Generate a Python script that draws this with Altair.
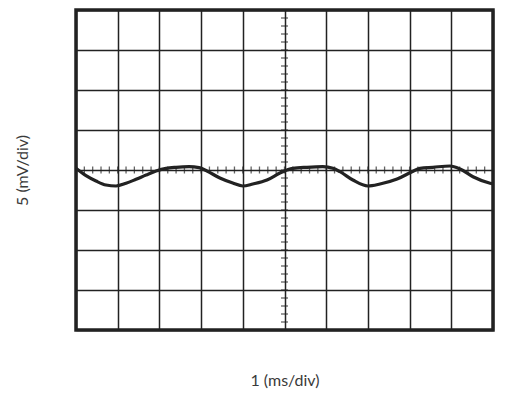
import altair as alt
import pandas as pd

# Waveform (time in ms, amplitude in mV)
t_ms = [0.0, 0.24, 0.48, 0.72, 0.96, 1.20, 1.44, 1.68, 1.92, 2.16, 2.40, 2.71, 2.95, 3.14,
        3.45, 3.76, 4.0, 4.24, 4.58, 4.89, 5.06, 5.20, 5.54, 5.92, 6.16, 6.33, 6.64, 7.0,
        7.29, 7.70, 8.06, 8.25, 8.56, 8.97, 9.21, 9.52, 9.93, 10.0]
v_mv = [0.21, -0.71, -1.38, -1.88, -2.0, -1.66, -1.16, -0.63, -0.13, 0.21, 0.34, 0.41,
        0.29, -0.13, -1.0, -1.63, -2.0, -1.75, -1.25, -0.38, 0.0, 0.21, 0.34, 0.41, 0.21,
        -0.21, -1.25, -2.0, -1.75, -1.13, -0.21, 0.21, 0.34, 0.5, 0.13, -0.84, -1.66, -1.75]

# Graticule: major divisions and minor ticks on the centre cross
x_major = [0, 1, 2, 3, 4, 5, 6, 7, 8, 9, 10]
y_major = [-20, -15, -10, -5, 0, 5, 10, 15, 20]
x_minor = [round(i * 0.2, 2) for i in range(0, 51)]
y_minor = [float(i) for i in range(-20, 21)]

wave = pd.DataFrame({"t": t_ms, "v": v_mv})
xt = pd.DataFrame({"t": x_minor, "v": [0.0] * len(x_minor)})
yt = pd.DataFrame({"t": [5.0] * len(y_minor), "v": y_minor})

xs = alt.Scale(domain=[0, 10], nice=False, zero=False)
ys = alt.Scale(domain=[-20, 20], nice=False, zero=False)

xaxis = alt.Axis(values=x_major, grid=True, labels=False, ticks=False, domain=False,
                 title="1 (ms/div)", titlePadding=42, titleFontSize=16,
                 titleFontWeight="normal", titleColor="#3a3a3a", titleFont="Lato",
                 gridColor="#222", gridWidth=1.5, gridOpacity=1)
yaxis = alt.Axis(values=y_major, grid=True, labels=False, ticks=False, domain=False,
                 title="5 (mV/div)", titlePadding=46, titleFontSize=16,
                 titleFontWeight="normal", titleColor="#3a3a3a", titleFont="Lato",
                 gridColor="#222", gridWidth=1.5, gridOpacity=1)

X = alt.X("t:Q", scale=xs, axis=xaxis)
Y = alt.Y("v:Q", scale=ys, axis=yaxis)

line = alt.Chart(wave).mark_line(color="#222", strokeWidth=3.2, interpolate="monotone").encode(x=X, y=Y)
xticks = alt.Chart(xt).mark_tick(orient="vertical", size=7, thickness=1.3, color="#222").encode(x=X, y=Y)
yticks = alt.Chart(yt).mark_tick(orient="horizontal", size=7, thickness=1.3, color="#222").encode(x=X, y=Y)

chart = alt.layer(xticks, yticks, line).properties(
    width=417, height=320,
    autosize=alt.AutoSizeParams(type="none"),
    padding={"left": 76, "top": 10, "right": 35, "bottom": 67},
    background="white",
).configure_view(stroke="#222", strokeWidth=3.5)

chart.save("out.html", embed_options={"renderer": "svg", "actions": False})
